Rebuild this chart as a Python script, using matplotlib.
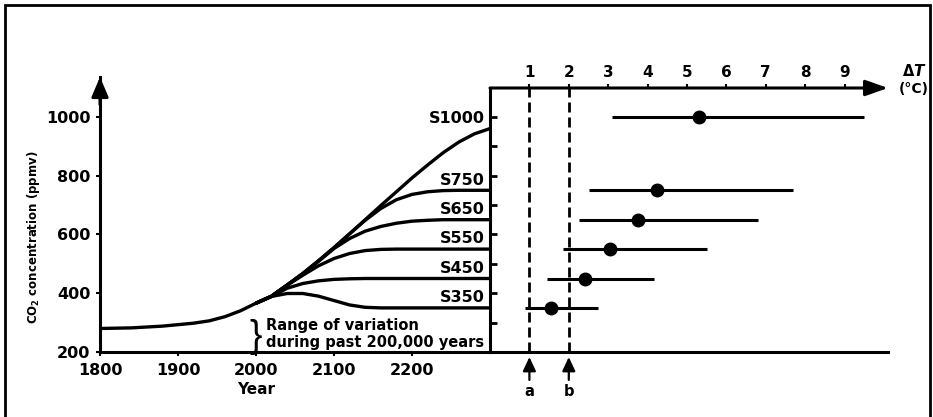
import matplotlib
matplotlib.use("Agg")
import matplotlib.pyplot as plt
import matplotlib.patches as mpatches

W, H = 933, 417

# CO2 history (ppmv)
hist_years = [1800, 1840, 1880, 1920, 1940, 1960, 1980, 2000]
hist_co2 = [280, 282, 288, 298, 306, 320, 340, 366]

# stabilisation scenarios, every 20 years from 2000 to 2300
scen_years = [2000, 2020, 2040, 2060, 2080, 2100, 2120, 2140, 2160, 2180,
              2200, 2220, 2240, 2260, 2280, 2300]
s1000 = [366, 390, 428, 467, 510, 555, 602, 650, 698, 745, 792, 836, 878, 914, 942, 960]
s750 = [366, 390, 428, 467, 510, 555, 602, 648, 688, 718, 736, 745, 749, 750, 750, 750]
s650 = [366, 390, 428, 466, 508, 552, 586, 611, 627, 638, 645, 648, 650, 650, 650, 650]
s550 = [366, 390, 427, 461, 493, 518, 535, 545, 549, 550, 550, 550, 550, 550, 550, 550]
s450 = [366, 389, 417, 433, 442, 447, 449, 450, 450, 450, 450, 450, 450, 450, 450, 450]
s350 = [366, 389, 399, 399, 390, 375, 360, 352, 350, 350, 350, 350, 350, 350, 350, 350]
scen_names = ["S1000", "S750", "S650", "S550", "S450", "S350"]
scen_series = [s1000, s750, s650, s550, s450, s350]

# equilibrium warming ranges (deg C)
scen_ppm = [1000, 750, 650, 550, 450, 350]
dt_low = [3.1, 2.5, 2.25, 1.85, 1.45, 0.9]
dt_best = [5.3, 4.25, 3.75, 3.05, 2.4, 1.55]
dt_high = [9.5, 7.7, 6.8, 5.5, 4.15, 2.75]

year_ticks = [1800, 1900, 2000, 2100, 2200]
ppm_ticks = [200, 400, 600, 800, 1000]
dt_ticks = [1, 2, 3, 4, 5, 6, 7, 8, 9]
marks = [(1, "a"), (2, "b")]

LW = 2.2
plt.rcParams["font.family"] = "DejaVu Sans"
plt.rcParams["font.weight"] = "bold"


def px(x, y):
    return x / W, 1 - y / H


fig = plt.figure(figsize=(W / 100, H / 100), dpi=100)

# ---- left panel: CO2 concentration ----
ax = fig.add_axes([100 / W, 65 / H, 390 / W, 275 / H])
ax.set_xlim(1800, 2300)
ax.set_ylim(200, 200 + 275 / 0.294)
for s in ["top", "right"]:
    ax.spines[s].set_visible(False)
for s in ["left", "bottom"]:
    ax.spines[s].set_linewidth(LW)
ax.set_xticks(year_ticks)
ax.set_yticks(ppm_ticks)
ax.tick_params(axis="both", direction="out", length=3, width=1.5,
               labelsize=11.5, pad=4)
ax.tick_params(axis="x", pad=5)
for lab in ax.get_xticklabels() + ax.get_yticklabels():
    lab.set_fontweight("bold")

ax.annotate("", xy=(0, 1), xytext=(0, 0.9), xycoords="axes fraction",
            arrowprops=dict(arrowstyle="-|>,head_length=0.75,head_width=0.32",
                            mutation_scale=16, lw=LW, color="k",
                            shrinkA=0, shrinkB=0))

ax.plot(hist_years, hist_co2, color="k", lw=2.4, solid_capstyle="butt")
for name, vals in zip(scen_names, scen_series):
    ax.plot(scen_years, vals, color="k", lw=2.4, solid_joinstyle="round",
            solid_capstyle="butt")
    ax.text(2293, vals[-1] + 35, name, ha="right", va="center",
            fontsize=11.5, fontweight="bold")

ax.text(2000, 250, "}", ha="center", va="center", fontsize=27,
        family="Liberation Sans", fontweight="normal")
ax.text(2013, 262, "Range of variation\nduring past 200,000 years",
        ha="left", va="center", fontsize=10.5, fontweight="bold",
        linespacing=1.15)

fig.text(*px(256, 389), "Year", ha="center", va="center",
         fontsize=11, fontweight="bold")
fig.text(*px(34, 237), r"CO$_\mathbf{2}$ concentration (ppmv)", rotation=90,
         ha="center", va="center", fontsize=8.5, fontweight="bold")

# ---- right panel: warming ----
ax2 = fig.add_axes([490 / W, 65 / H, 398 / W, 264 / H])
ax2.set_xlim(0, 398 / 39.4)
ax2.set_ylim(200, 200 + 264 / 0.294)
ax2.patch.set_alpha(0)
for s in ["top", "right"]:
    ax2.spines[s].set_visible(False)
for s in ["left", "bottom"]:
    ax2.spines[s].set_linewidth(LW)
ax2.xaxis.tick_top()
ax2.set_xticks(dt_ticks)
ax2.set_yticks(list(range(300, 1001, 100)))
ax2.tick_params(axis="x", direction="out", length=3, width=1.5,
                labelsize=11, pad=3)
ax2.tick_params(axis="y", direction="in", length=5, width=2, labelleft=False)
for lab in ax2.get_xticklabels():
    lab.set_fontweight("bold")

ax2.annotate("", xy=(1, 1), xytext=(0, 1), xycoords="axes fraction",
             arrowprops=dict(arrowstyle="-|>,head_length=0.85,head_width=0.3",
                             mutation_scale=16, lw=LW, color="k",
                             shrinkA=0, shrinkB=0))

for x, lab in marks:
    ax2.plot([x, x], [200, 1105], color="k", lw=2,
             linestyle=(0, (3.6, 1.8)), clip_on=False)
    ax2.annotate("", xy=(x, 183), xytext=(x, 105), xycoords="data",
                 annotation_clip=False,
                 arrowprops=dict(arrowstyle="-|>,head_length=0.6,head_width=0.28",
                                 mutation_scale=14, lw=1.6, color="k",
                                 shrinkA=0, shrinkB=0))
    ax2.text(x, 64, lab, ha="center", va="center", fontsize=10.5,
             fontweight="bold", clip_on=False)

ax2.hlines(scen_ppm, dt_low, dt_high, color="k", lw=2.2)
ax2.plot(dt_best, scen_ppm, "o", color="k", markersize=9, clip_on=False)

fig.text(*px(914, 72), "Δ", ha="right", va="center", fontsize=10.5,
         fontweight="bold")
fig.text(*px(913, 72), "T", ha="left", va="center", fontsize=11,
         fontweight="bold", fontstyle="italic")
fig.text(*px(914, 89), "(°C)", ha="center", va="center", fontsize=10,
         fontweight="bold")

# frame round the figure
fig.patches.append(mpatches.Rectangle((5 / W, -0.05), 925 / W, 1.05 - 5 / H,
                                      transform=fig.transFigure, fill=False,
                                      lw=2, edgecolor="k", clip_on=False))

fig.savefig("out.png", dpi=100)
